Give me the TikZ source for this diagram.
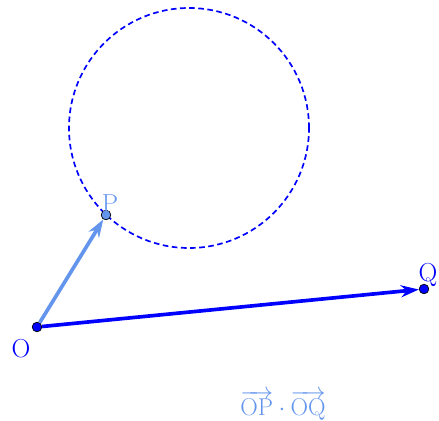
\documentclass[tikz,border=0pt]{standalone}
\definecolor{vecblue}{RGB}{0,0,255}
\definecolor{lightvec}{RGB}{100,149,237}
\usepackage{amsmath,amssymb}
\usepackage{tikz}
\usetikzlibrary{arrows.meta,positioning}

\begin{document}
\begin{tikzpicture}[
        every node/.style={font=\fontsize{18.5}{21}\selectfont},
        dot/.style={circle, draw=black, line width=0.5pt, inner sep=0pt, minimum size=0.24cm},
        vec/.style={line width=2.6pt, -{Stealth[length=4.5mm,width=3mm]}},
        orbit/.style={draw=vecblue, dashed, line width=1.2pt, dash pattern=on 4pt off 2.5pt}
      ]
      \useasboundingbox (0,0) rectangle (10.975,10.5);
      \draw[orbit] (4.725,7.3) circle (3);
      \node[dot, fill=vecblue] (O) at (0.925,2.325) {};
      \node[dot, fill=lightvec] (P) at (2.65,5.125) {};
      \node[dot, fill=vecblue] (Q) at (10.6,3.275) {};
      \draw[vec, lightvec] (O) -- (P);
      \draw[vec, vecblue] (O) -- (Q);
      \node[vecblue, below left=1mm and -0.5mm of O] (labO) {O};
      \node[lightvec, above=-1.8mm of P, xshift=1mm] (labP) {P};
      \node[vecblue, above=-1.8mm of Q, xshift=1mm] (labQ) {Q};
      \node[lightvec] (dotprod) at (7.075,0.37) {$\overrightarrow{\mathrm{OP}}\cdot\overrightarrow{\mathrm{OQ}}$};
    \end{tikzpicture}
\end{document}
